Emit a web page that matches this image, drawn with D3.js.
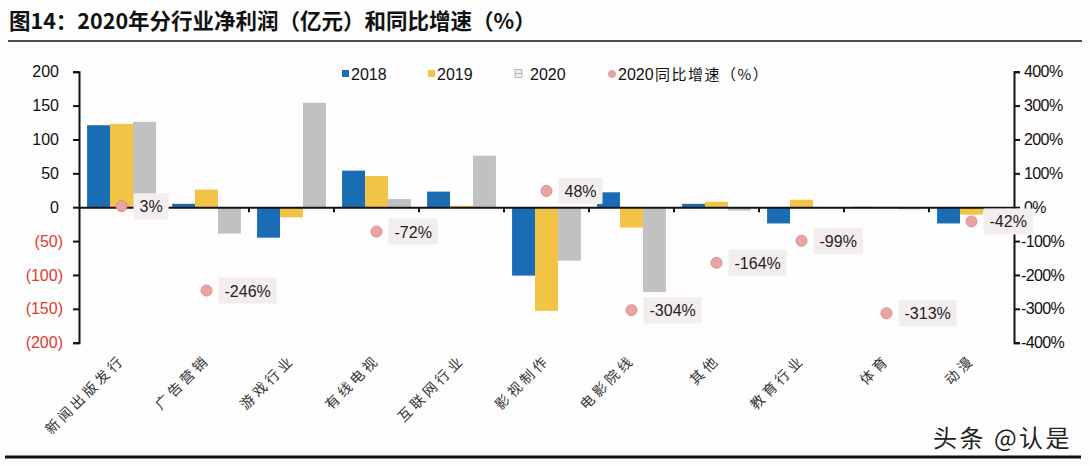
<!DOCTYPE html>
<html><head><meta charset="utf-8">
<script src="https://cdn.jsdelivr.net/npm/d3@7"></script>
<style>
body{margin:0;background:#fdfdfd;}
svg{display:block;}
</style></head>
<body><svg id="c" width="1090" height="466"></svg>
<script>
const categories = ["新闻出版发行","广告营销","游戏行业","有线电视","互联网行业","影视制作","电影院线","其他","教育行业","体育","动漫"];
const profit2018 = [121, 5, -45, 54, 23, -101, 22, 5, -24, 0.5, -24];
const profit2019 = [123, 26, -15, 46, 2, -153, -30, 8, 11, 0.5, -11];
const profit2020 = [126, -39, 154, 12, 76, -79, -125, -5, 0, -3, -6];
const growth2020 = [3, -246, null, -72, null, 48, -304, -164, -99, -313, -42];
const seriesNames = ["2018","2019","2020"];
const leftTicks = [200,150,100,50,0,-50,-100,-150,-200];
const rightTicks = [400,300,200,100,0,-100,-200,-300,-400];
const colors = ["#1a6db5","#f2c445","#c1c1c1"];

const svg = d3.select("#c");
const L = 79, R = 1014, T = 71.7, B = 342.7;

// title
svg.append("text").attr("x",9).attr("y",29)
  .attr("font-family","'Noto Sans CJK SC','Noto Sans',sans-serif").attr("font-weight",700)
  .attr("font-size",21.5).attr("fill","#111")
  .text("图14：2020年分行业净利润（亿元）和同比增速（%）");
svg.append("line").attr("x1",8).attr("x2",1082).attr("y1",41).attr("y2",41)
  .attr("stroke","#111").attr("stroke-width",1.5);

const x0 = d3.scaleBand().domain(categories).range([L,R]).paddingInner(0.19).paddingOuter(0.095);
const x1 = d3.scaleBand().domain(seriesNames).range([0,x0.bandwidth()]);
const y = d3.scaleLinear().domain([-200,200]).range([B,T]);
const y2 = d3.scaleLinear().domain([-400,400]).range([B,T]);

const data = categories.map((c,i)=>({c, vals:[profit2018[i],profit2019[i],profit2020[i]], g:growth2020[i]}));

// bars
const grp = svg.append("g");
data.forEach(d=>{
  d.vals.forEach((v,j)=>{
    grp.append("rect")
      .attr("x", x0(d.c)+x1(seriesNames[j]))
      .attr("width", x1.bandwidth())
      .attr("y", y(Math.max(0,v)))
      .attr("height", Math.abs(y(v)-y(0)))
      .attr("fill", colors[j]);
  });
});

// left axis
const fmtL = v => v<0 ? "("+Math.abs(v)+")" : String(v);
const gl = svg.append("g").attr("transform",`translate(${L},0)`)
  .call(d3.axisLeft(y).tickValues(leftTicks).tickSize(6).tickFormat(fmtL));
gl.select(".domain").attr("stroke","#111").attr("stroke-width",2);
gl.selectAll(".tick line").attr("stroke","#111").attr("stroke-width",2);
gl.selectAll(".tick text").attr("font-family","'Liberation Sans',Arial,sans-serif")
  .attr("font-size",16).attr("fill",d=>d<0?"#e03a2e":"#111")
  .attr("x",d=>d<0?-16:-20);

// right axis
const gr = svg.append("g").attr("transform",`translate(${R},0)`)
  .call(d3.axisRight(y2).tickValues(rightTicks).tickSize(6).tickFormat(v=>v+"%"));
gr.select(".domain").attr("stroke","#111").attr("stroke-width",2);
gr.selectAll(".tick line").attr("stroke","#111").attr("stroke-width",2);
gr.selectAll(".tick text").attr("font-family","'Liberation Sans',Arial,sans-serif")
  .attr("font-size",16).attr("fill","#111").attr("x",d=>d<0?7:10).attr("letter-spacing",-0.6);

// zero line with category ticks
const gx = svg.append("g").attr("transform",`translate(0,${y(0)})`)
  .call(d3.axisBottom(x0).tickSize(0).tickFormat(""));
gx.select(".domain").attr("stroke","#111").attr("stroke-width",2);
const step = x0.step();
categories.slice(1).forEach((c,i)=>{
  const bx = x0(c) - x0.paddingInner()*step/2;
  gx.append("line").attr("x1",bx).attr("x2",bx).attr("y1",0).attr("y2",5)
    .attr("stroke","#111").attr("stroke-width",2);
});

// category labels
data.forEach(d=>{
  const cx = x0(d.c)+x0.bandwidth()/2;
  svg.append("text")
    .attr("transform",`translate(${cx+4},${361}) rotate(-45)`)
    .attr("text-anchor","end")
    .attr("font-family","'Noto Sans CJK SC',sans-serif").attr("font-size",14)
    .attr("letter-spacing",3.5).attr("fill","#333")
    .text(d.c);
});

// growth dots + labels
const gd = svg.append("g");
data.filter(d=>d.g!==null).forEach(d=>{
  const cx = x0(d.c)+x0.bandwidth()/2, cy = y2(d.g);
  gd.append("circle").attr("cx",cx).attr("cy",cy).attr("r",5.5)
    .attr("fill","#e9a4a4").attr("stroke","#d98d8d").attr("stroke-width",1);
  const t = gd.append("text").attr("x",cx+18).attr("y",cy+6)
    .attr("font-family","'Liberation Sans',Arial,sans-serif").attr("font-size",16)
    .attr("fill","#222").text(d.g+"%");
  const w = t.node().getComputedTextLength();
  gd.insert("rect","text:last-child").attr("x",cx+12).attr("y",cy-13)
    .attr("width",w+12).attr("height",26).attr("fill","#f4eded").attr("rx",1);
  t.raise();
});

// legend
const lg = svg.append("g").attr("font-family","'Liberation Sans',Arial,sans-serif").attr("font-size",16).attr("fill","#111");
const legX = [342, 428, 515];
seriesNames.forEach((s,j)=>{
  if(j<2){
    lg.append("rect").attr("x",legX[j]).attr("y",70).attr("width",7).attr("height",7).attr("fill",colors[j]);
  } else {
    lg.append("rect").attr("x",legX[j]).attr("y",69.5).attr("width",7).attr("height",8)
      .attr("fill","#eee").attr("stroke","#aaa").attr("stroke-width",0.8);
    lg.append("line").attr("x1",legX[j]).attr("x2",legX[j]+7).attr("y1",73.5).attr("y2",73.5).attr("stroke","#aaa").attr("stroke-width",0.8);
  }
  lg.append("text").attr("x",legX[j]+(j<2?9:15)).attr("y",80).text(s);
});
lg.append("circle").attr("cx",612).attr("cy",74).attr("r",3.5).attr("fill","#e9a4a4").attr("stroke","#d98d8d").attr("stroke-width",0.8);
lg.append("text").attr("x",618).attr("y",80).text("2020");
lg.append("text").attr("x",655).attr("y",80).attr("font-family","'Noto Sans CJK SC',sans-serif").attr("font-size",15).attr("letter-spacing",1.5).text("同比增速（%）");

// watermark & bottom rule
svg.append("text").attr("x",933).attr("y",447)
  .attr("font-family","'Noto Sans CJK SC',sans-serif").attr("font-size",24).attr("letter-spacing",2.5).attr("fill","#222")
  .text("头条 @认是");
svg.append("line").attr("x1",5).attr("x2",1081).attr("y1",457).attr("y2",457)
  .attr("stroke","#111").attr("stroke-width",3);
</script></body></html>
